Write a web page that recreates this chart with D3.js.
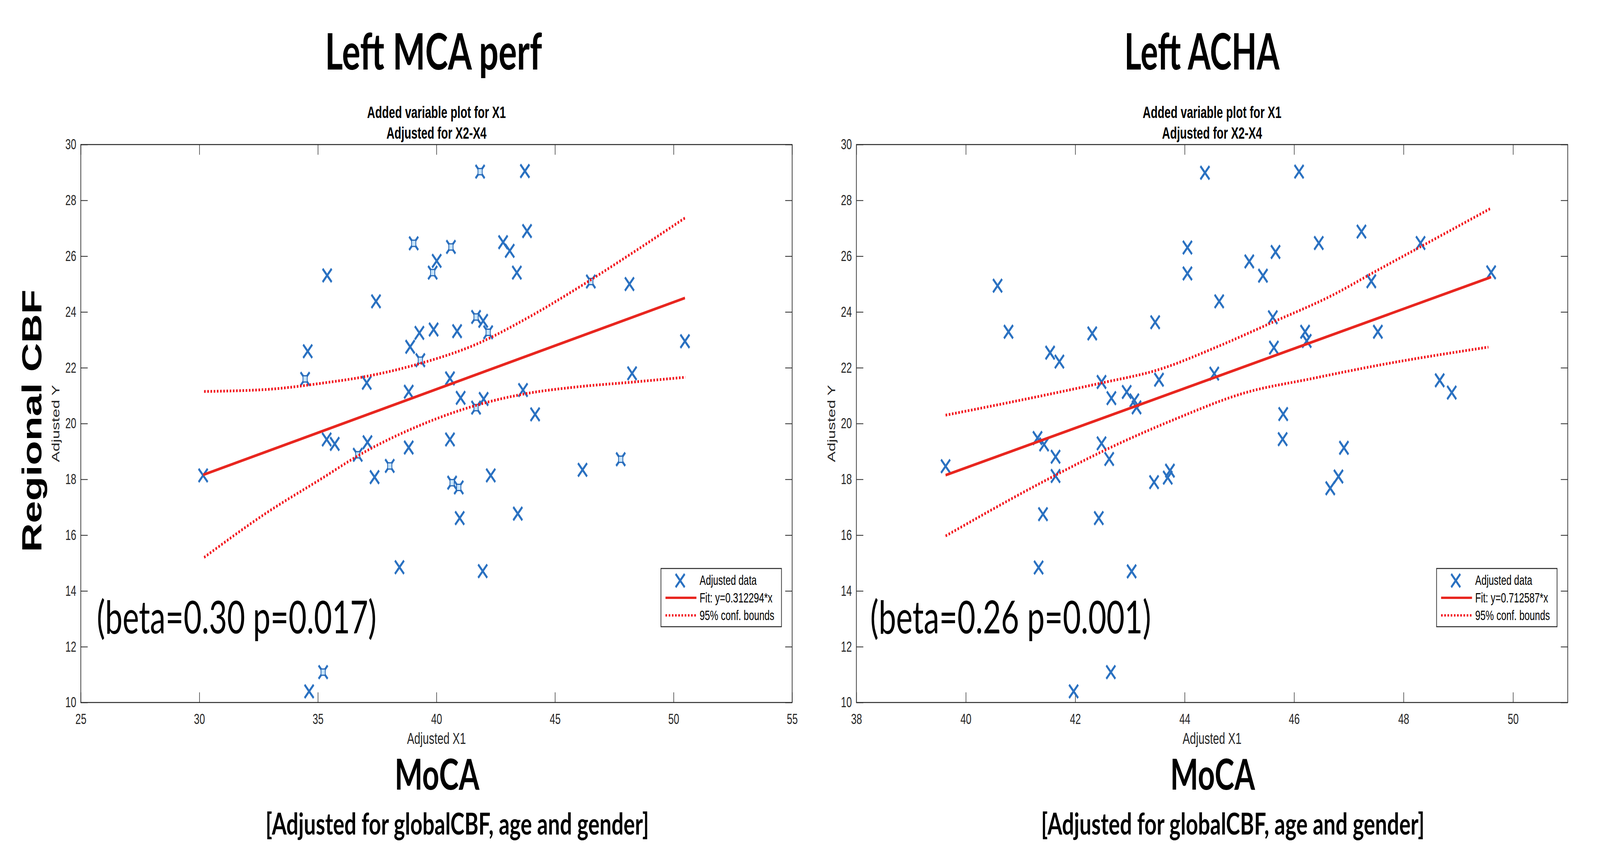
<!DOCTYPE html>
<html>
<head>
<meta charset="utf-8">
<script src="https://cdn.jsdelivr.net/npm/d3@7"></script>
<style>
  html, body { margin: 0; padding: 0; background: #fff; overflow: hidden; }
  #chart { width: 100vw; height: 100vh; }
  svg { display: block; width: 100%; height: 100%; }
</style>
</head>
<body>
<div id="chart"></div>
<script>
// ---- data ----
var yTicks = [10, 12, 14, 16, 18, 20, 22, 24, 26, 28, 30];

// Left MCA perf
var mcaX = [30.16, 34.57, 34.46, 35.39, 35.37, 35.71, 34.63, 35.22, 37.45, 37.06,
            37.09, 37.39, 36.68, 38.03, 38.44, 39.04, 38.89, 39.28, 39.32, 38.83,
            38.83, 39.88, 39.84, 40.01, 40.61, 41.84, 40.87, 40.57, 41.02, 40.57,
            40.66, 40.94, 40.98, 41.95, 41.67, 41.97, 42.18, 41.67, 41.99, 42.29,
            42.81, 43.09, 43.39, 43.73, 43.82, 43.65, 44.16, 43.43, 46.16, 46.51,
            47.77, 48.14, 48.25, 50.48];
var mcaY = [18.14, 22.59, 21.60, 25.31, 19.43, 19.27, 10.40, 11.09, 24.38, 21.46,
            19.33, 18.08, 18.88, 18.48, 14.85, 26.46, 22.75, 23.25, 22.27, 21.14,
            19.14, 23.37, 25.41, 25.83, 26.33, 29.03, 23.31, 21.62, 20.92, 19.43,
            17.88, 17.71, 16.61, 14.71, 23.82, 23.68, 23.27, 20.57, 20.88, 18.14,
            26.50, 26.19, 25.41, 29.05, 26.90, 21.20, 20.33, 16.77, 18.34, 25.09,
            18.72, 25.00, 21.80, 22.95];
// points drawn with a small square in the centre
var mcaBoxed = [2, 7, 12, 13, 15, 18, 22, 24, 25, 30, 31, 34, 36, 37, 49, 50];
var mcaXTicks = [25, 30, 35, 40, 45, 50, 55];
var mcaFitX = [30.16, 50.48], mcaFitY = [18.16, 24.50];
var mcaUpX = [30.2, 32.8, 35.2, 37.1, 39.3, 41.7, 43.7, 46.0, 48.2, 50.5];
var mcaUpY = [21.15, 21.22, 21.45, 21.70, 22.15, 22.85, 23.72, 24.88, 26.08, 27.38];
var mcaLoX = [30.2, 32.8, 35.2, 36.7, 39.4, 41.7, 43.7, 46.0, 48.2, 50.5];
var mcaLoY = [15.20, 16.78, 18.05, 18.85, 19.97, 20.66, 21.06, 21.32, 21.48, 21.66];

// Left ACHA
var achaX = [39.63, 40.58, 40.78, 41.54, 41.71, 41.31, 41.43, 41.64, 41.64, 41.41,
             41.33, 41.97, 42.31, 42.48, 42.48, 42.62, 42.43, 42.66, 42.65, 42.94,
             43.08, 43.12, 43.03, 43.46, 43.53, 43.44, 43.69, 43.73, 44.05, 44.05,
             44.37, 44.63, 44.54, 45.18, 45.43, 45.61, 45.63, 45.66, 45.80, 45.79,
             46.09, 46.20, 46.23, 46.45, 46.66, 46.81, 46.91, 47.23, 47.41, 47.53,
             48.31, 48.66, 48.88, 49.60];
var achaY = [18.47, 24.94, 23.29, 22.54, 22.22, 19.48, 19.25, 18.81, 18.12, 16.75,
             14.84, 10.40, 23.23, 21.49, 19.29, 18.73, 16.61, 20.91, 11.09, 21.13,
             20.83, 20.58, 14.70, 23.63, 21.57, 17.90, 18.06, 18.31, 26.31, 25.38,
             28.99, 24.38, 21.79, 25.81, 25.30, 23.81, 22.72, 26.15, 20.34, 19.44,
             29.03, 23.29, 22.96, 26.47, 17.68, 18.10, 19.13, 26.88, 25.10, 23.29,
             26.47, 21.55, 21.11, 25.42];
var achaBoxed = [];
var achaXTicks = [38, 40, 42, 44, 46, 48, 50];
var achaFitX = [39.63, 49.60], achaFitY = [18.15, 25.25];
var achaUpX = [39.63, 41.35, 42.47, 43.52, 44.58, 45.64, 46.69, 47.50, 48.50, 49.60];
var achaUpY = [20.30, 20.98, 21.45, 21.93, 22.74, 23.66, 24.59, 25.47, 26.54, 27.72];
var achaLoX = [39.63, 41.35, 42.59, 43.84, 45.08, 46.32, 47.57, 49.55];
var achaLoY = [15.97, 17.85, 19.09, 20.17, 21.09, 21.61, 22.10, 22.74];

var legendLabels = ["Adjusted data", "Fit: y=0.312294*x", "95% conf. bounds"];
var legendLabels2 = ["Adjusted data", "Fit: y=0.712587*x", "95% conf. bounds"];
/*---------------------------------------------------------------------------------------*/

var width = 6001, height = 2219;
var axisColor = "#262626", markColor = "#2a71c1", fitColor = "#e8261f", boundColor = "#f2121a";
var mlFont = "'Liberation Sans', Arial, Helvetica, sans-serif";
var slideFont = "Lato, 'Open Sans', sans-serif";

// the drawing is laid out in 6001x2219 units and scaled to the window
var svg = d3.select("#chart").append("svg")
    .attr("viewBox", "0 0 " + width + " " + height)
    .attr("preserveAspectRatio", "none");

svg.append("rect").attr("width", width).attr("height", height).attr("fill", "#fff");

function zip(a, b) {
    return a.map(function (v, i) { return [v, b[i]]; });
}

function drawPanel(p) {
    var x = d3.scaleLinear().domain(p.xDomain).range([p.left, p.right]);
    var y = d3.scaleLinear().domain([10, 30]).range([p.bottom, p.top]);
    var g = svg.append("g");
    var tick = 26;

    function styleAxis(sel) {
        sel.select(".domain").remove();
        sel.attr("font-family", mlFont).attr("font-size", 37);
        sel.selectAll(".tick line").attr("stroke", axisColor).attr("stroke-width", 2);
        sel.selectAll(".tick text").attr("fill", axisColor);
    }

    g.append("g")
        .attr("transform", "translate(0," + p.bottom + ")")
        .call(d3.axisBottom(x).tickValues(p.xTicks).tickSizeInner(-tick).tickSizeOuter(0).tickPadding(29))
        .call(styleAxis);
    g.append("g")
        .attr("transform", "translate(0," + p.top + ")")
        .call(d3.axisTop(x).tickValues(p.xTicks).tickSizeInner(-tick).tickSizeOuter(0).tickFormat(""))
        .call(styleAxis);
    g.append("g")
        .attr("transform", "translate(" + p.left + ",0)")
        .call(d3.axisLeft(y).tickValues(yTicks).tickSizeInner(-tick).tickSizeOuter(0).tickPadding(17))
        .call(styleAxis);
    g.append("g")
        .attr("transform", "translate(" + p.right + ",0)")
        .call(d3.axisRight(y).tickValues(yTicks).tickSizeInner(-tick).tickSizeOuter(0).tickFormat(""))
        .call(styleAxis);

    g.append("rect")
        .attr("x", p.left).attr("y", p.top)
        .attr("width", p.right - p.left).attr("height", p.bottom - p.top)
        .attr("fill", "none").attr("stroke", axisColor).attr("stroke-width", 2.5);

    // markers
    var s = 17;
    var xPath = "M" + (-s) + "," + (-s) + "L" + s + "," + s + "M" + (-s) + "," + s + "L" + s + "," + (-s);
    var pts = zip(p.xs, p.ys);
    g.selectAll(".pt").data(pts).enter().append("path")
        .attr("class", "pt")
        .attr("transform", function (d) { return "translate(" + x(d[0]) + "," + y(d[1]) + ")"; })
        .attr("d", xPath)
        .attr("fill", "none").attr("stroke", markColor).attr("stroke-width", 6.5);
    g.selectAll(".box").data(p.boxed.map(function (i) { return pts[i]; })).enter().append("rect")
        .attr("class", "box")
        .attr("x", function (d) { return x(d[0]) - 8; })
        .attr("y", function (d) { return y(d[1]) - 8; })
        .attr("width", 16).attr("height", 16)
        .attr("fill", "#c6e4fa").attr("stroke", "#2566b4").attr("stroke-width", 3);

    // fit and bounds
    var line = d3.line().x(function (d) { return x(d[0]); }).y(function (d) { return y(d[1]); });
    var curve = d3.line().curve(d3.curveMonotoneX).x(function (d) { return x(d[0]); }).y(function (d) { return y(d[1]); });
    g.append("path").attr("d", line(zip(p.fitX, p.fitY)))
        .attr("fill", "none").attr("stroke", fitColor).attr("stroke-width", 7);
    [zip(p.upX, p.upY), zip(p.loX, p.loY)].forEach(function (b) {
        g.append("path").attr("d", curve(b))
            .attr("fill", "none").attr("stroke", boundColor)
            .attr("stroke-width", 7).attr("stroke-dasharray", "6,6");
    });

    // legend
    var lx = p.right - 492, ly = 1455;
    var lg = g.append("g").attr("transform", "translate(" + lx + "," + ly + ")");
    lg.append("rect").attr("width", 452).attr("height", 149)
        .attr("fill", "#fff").attr("stroke", axisColor).attr("stroke-width", 2.5);
    lg.append("path").attr("transform", "translate(72,31)").attr("d", xPath)
        .attr("fill", "none").attr("stroke", markColor).attr("stroke-width", 6.5);
    lg.append("line").attr("x1", 17).attr("x2", 133).attr("y1", 75).attr("y2", 75)
        .attr("stroke", fitColor).attr("stroke-width", 6);
    lg.append("line").attr("x1", 17).attr("x2", 133).attr("y1", 120).attr("y2", 120)
        .attr("stroke", boundColor).attr("stroke-width", 6).attr("stroke-dasharray", "6,6");
    lg.selectAll("text").data(p.legend).enter().append("text")
        .attr("x", 145)
        .attr("y", function (d, i) { return 42 + i * 45; })
        .attr("font-family", mlFont).attr("font-size", 35).attr("fill", "#000")
        .text(function (d) { return d; });

    var cx = (p.left + p.right) / 2;
    // MATLAB titles and labels
    g.append("text").attr("x", cx).attr("y", 302).attr("text-anchor", "middle")
        .attr("font-family", mlFont).attr("font-weight", "bold").attr("font-size", 42)
        .text("Added variable plot for X1");
    g.append("text").attr("x", cx).attr("y", 355).attr("text-anchor", "middle")
        .attr("font-family", mlFont).attr("font-weight", "bold").attr("font-size", 42)
        .text("Adjusted for X2-X4");
    g.append("text").attr("x", cx).attr("y", 1904).attr("text-anchor", "middle")
        .attr("font-family", mlFont).attr("font-size", 41).attr("fill", axisColor)
        .text("Adjusted X1");
    g.append("text")
        .attr("transform", "translate(" + (p.left - 80) + ",1084) rotate(-90)")
        .attr("text-anchor", "middle")
        .attr("font-family", mlFont).attr("font-size", 41).attr("fill", axisColor)
        .text("Adjusted Y");

    // slide annotations
    g.append("text").attr("x", p.titleX).attr("y", 178).attr("text-anchor", "middle")
        .attr("font-family", slideFont).attr("font-weight", "bold").attr("font-size", 128)
        .attr("textLength", p.titleLen).attr("lengthAdjust", "spacingAndGlyphs")
        .text(p.title);
    g.append("text").attr("x", p.left + p.betaDx).attr("y", 1621)
        .attr("font-family", slideFont).attr("font-size", 116)
        .attr("textLength", p.betaLen).attr("lengthAdjust", "spacingAndGlyphs")
        .text(p.beta);
    g.append("text").attr("x", cx + 2).attr("y", 2021).attr("text-anchor", "middle")
        .attr("font-family", slideFont).attr("font-weight", "bold").attr("font-size", 110)
        .attr("textLength", 318).attr("lengthAdjust", "spacingAndGlyphs")
        .text("MoCA");
    g.append("text").attr("x", cx + 78).attr("y", 2136).attr("text-anchor", "middle")
        .attr("font-family", slideFont).attr("font-weight", "bold").attr("font-size", 76)
        .attr("textLength", 1438).attr("lengthAdjust", "spacingAndGlyphs")
        .text("[Adjusted for globalCBF, age and gender]");
}

drawPanel({
    left: 303, right: 2971, top: 370, bottom: 1798,
    xDomain: [25, 55], xTicks: mcaXTicks,
    xs: mcaX, ys: mcaY, boxed: mcaBoxed,
    fitX: mcaFitX, fitY: mcaFitY,
    upX: mcaUpX, upY: mcaUpY, loX: mcaLoX, loY: mcaLoY,
    legend: legendLabels,
    title: "Left MCA perf", titleX: 1626, titleLen: 814,
    beta: "(beta=0.30 p=0.017)", betaDx: 60, betaLen: 1049
});

drawPanel({
    left: 3212, right: 5880, top: 370, bottom: 1798,
    xDomain: [38, 51], xTicks: achaXTicks,
    xs: achaX, ys: achaY, boxed: achaBoxed,
    fitX: achaFitX, fitY: achaFitY,
    upX: achaUpX, upY: achaUpY, loX: achaLoX, loY: achaLoY,
    legend: legendLabels2,
    title: "Left ACHA", titleX: 4508, titleLen: 582,
    beta: "(beta=0.26 p=0.001)", betaDx: 52, betaLen: 1053
});

// shared y label of the slide
svg.append("text")
    .attr("transform", "translate(156,1077) rotate(-90)")
    .attr("text-anchor", "middle")
    .attr("font-family", mlFont).attr("font-weight", "bold").attr("font-size", 104)
    .attr("textLength", 672).attr("lengthAdjust", "spacingAndGlyphs")
    .text("Regional CBF");
</script>
</body>
</html>
